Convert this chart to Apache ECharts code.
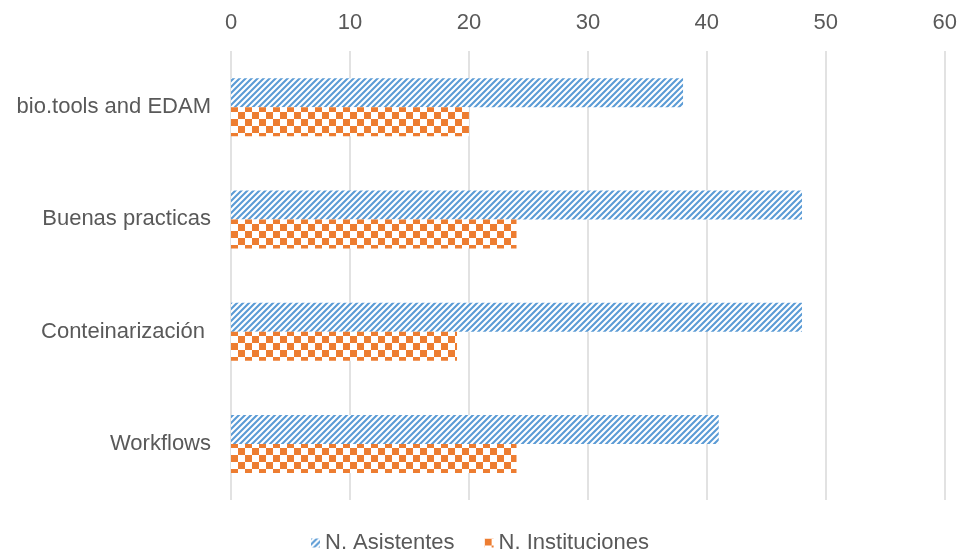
<!DOCTYPE html>
<html>
<head>
<meta charset="utf-8">
<script src="https://cdn.jsdelivr.net/npm/echarts@6/dist/echarts.min.js"></script>
<style>
html,body{margin:0;padding:0;background:#fff;}
#chart{width:960px;height:560px;}
</style>
</head>
<body>
<div id="chart"></div>
<script>
var categories = ['bio.tools and EDAM', 'Buenas practicas', 'Conteinarización ', 'Workflows'];
var asistentes = [38, 48, 48, 41];
var instituciones = [20, 24, 19, 24];
var seriesNames = ['N. Asistentes', 'N. Instituciones'];

function stripePattern() {
  var s = 6;
  var c = document.createElement('canvas');
  c.width = s; c.height = s;
  var ctx = c.getContext('2d');
  ctx.fillStyle = '#ffffff';
  ctx.fillRect(0, 0, s, s);
  ctx.strokeStyle = '#5B9BD5';
  ctx.lineWidth = 2.1;
  ctx.beginPath();
  ctx.moveTo(-1, s + 1); ctx.lineTo(s + 1, -1);
  ctx.moveTo(-s / 2 - 1, s / 2 + 1); ctx.lineTo(s / 2 + 1, -s / 2 - 1);
  ctx.moveTo(s / 2 - 1, 1.5 * s + 1); ctx.lineTo(1.5 * s + 1, s / 2 - 1);
  ctx.stroke();
  return c;
}
function checkerPattern() {
  var s = 7;
  var c = document.createElement('canvas');
  c.width = 2 * s; c.height = 2 * s;
  var ctx = c.getContext('2d');
  ctx.fillStyle = '#ffffff';
  ctx.fillRect(0, 0, 2 * s, 2 * s);
  ctx.fillStyle = '#ED7D31';
  ctx.fillRect(0, 0, s, s);
  ctx.fillRect(s, s, s, s);
  return c;
}

var chart = echarts.init(document.getElementById('chart'), null, {renderer: 'canvas'});
var font = '"Liberation Sans", Arial, sans-serif';
chart.setOption({
  animation: false,
  textStyle: {fontFamily: font},
  grid: {left: 231, right: 14, top: 51, bottom: 60, containLabel: false},
  xAxis: {
    type: 'value',
    position: 'top',
    min: 0, max: 60, interval: 10,
    axisLine: {show: false},
    axisTick: {show: false},
    axisLabel: {color: '#595959', fontSize: 22, margin: 17, fontFamily: font},
    splitLine: {show: true, lineStyle: {color: '#d9d9d9', width: 1.5}}
  },
  yAxis: {
    type: 'category',
    data: categories,
    inverse: true,
    axisLine: {show: false},
    axisTick: {show: false},
    axisLabel: {color: '#595959', fontSize: 22, margin: 20, fontFamily: font}
  },
  legend: {
    bottom: 1,
    left: 'center',
    itemWidth: 9,
    itemHeight: 9,
    itemGap: 30,
    icon: 'rect',
    textStyle: {color: '#595959', fontSize: 22, fontFamily: font},
    data: seriesNames
  },
  series: [
    {
      name: seriesNames[0],
      type: 'bar',
      data: asistentes,
      barWidth: 29,
      barGap: '0%',
      itemStyle: {color: {image: stripePattern(), repeat: 'repeat'}}
    },
    {
      name: seriesNames[1],
      type: 'bar',
      data: instituciones,
      barWidth: 29,
      barGap: '0%',
      itemStyle: {color: {image: checkerPattern(), repeat: 'repeat'}}
    }
  ]
});
</script>
</body>
</html>
